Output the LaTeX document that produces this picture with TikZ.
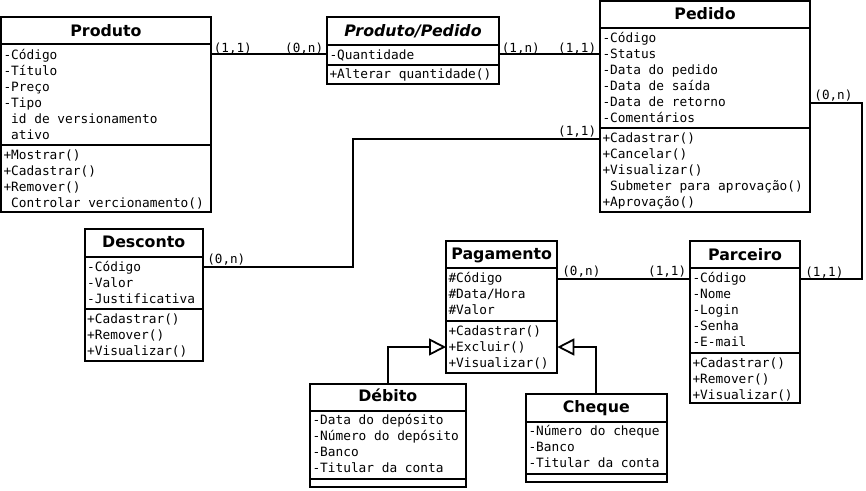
\documentclass[tikz,border=0pt]{standalone}
\usepackage{fontspec}
\setmainfont{DejaVu Sans}
\setmonofont{DejaVu Sans Mono}
\usetikzlibrary{arrows.meta}
\newcommand\mlines[4]{%
  \foreach \s [count=\i] in {#4} {\node[txt] (#1\i) at (#2, {#3+16*(\i-1)}) {\s};}}
\begin{document}
\begin{tikzpicture}[x=1pt,y=-1pt, line width=1.8pt,
  box/.style={draw, rectangle, inner sep=0pt, outer sep=0pt, anchor=north west},
  ttl/.style={font=\fontsize{15.8}{18}\selectfont\bfseries, anchor=base, inner sep=0pt},
  txt/.style={font=\fontsize{12.8}{16}\selectfont\ttfamily, anchor=base west, inner sep=0pt, xshift=0.6pt},
  lbl/.style={font=\fontsize{12.6}{14}\selectfont\ttfamily, inner sep=0pt},
  gen/.style={-{Triangle[open,length=17pt,width=17pt]}}]
\useasboundingbox (0,0) rectangle (866,490);

% Produto
\node[box, minimum width=210pt, minimum height=195.3pt] (produto) at (1,17) {};
\draw (produto.west |- 0,44.3) -- (produto.east |- 0,44.3);
\draw (produto.west |- 0,144.7) -- (produto.east |- 0,144.7);
\node[ttl] (produto-t) at (106,36) {Produto};
\mlines{produto-a}{2}{59}{-Código,-Título,-Preço,-Tipo,{\hphantom{-}id de versionamento},{\hphantom{-}ativo}}
\mlines{produto-m}{2}{159.5}{+Mostrar(),+Cadastrar(),+Remover(),{\hphantom{-}Controlar vercionamento()}}

% Produto/Pedido
\node[box, minimum width=172pt, minimum height=67.3pt] (prodped) at (327,16.7) {};
\draw (prodped.west |- 0,45) -- (prodped.east |- 0,45);
\draw (prodped.west |- 0,65) -- (prodped.east |- 0,65);
\node[ttl, font=\fontsize{15.8}{18}\selectfont\bfseries\itshape] (prodped-t) at (413,36) {Produto/Pedido};
\mlines{prodped-a}{328}{59}{-Quantidade}
\mlines{prodped-m}{328}{78.5}{+Alterar quantidade()}

% Pedido
\node[box, minimum width=210pt, minimum height=211.3pt] (pedido) at (600,1) {};
\draw (pedido.west |- 0,28.3) -- (pedido.east |- 0,28.3);
\draw (pedido.west |- 0,128.3) -- (pedido.east |- 0,128.3);
\node[ttl] (pedido-t) at (705,19.5) {Pedido};
\mlines{pedido-a}{601}{42.7}{-Código,-Status,-Data do pedido,-Data de saída,-Data de retorno,-Comentários}
\mlines{pedido-m}{601}{142.7}{+Cadastrar(),+Cancelar(),+Visualizar(),{\hphantom{-}Submeter para aprovação()},+Aprovação()}

% Desconto
\node[box, minimum width=118pt, minimum height=131.4pt] (desconto) at (84.7,229.3) {};
\draw (desconto.west |- 0,256.7) -- (desconto.east |- 0,256.7);
\draw (desconto.west |- 0,309.3) -- (desconto.east |- 0,309.3);
\node[ttl] (desconto-t) at (143.7,247.3) {Desconto};
\mlines{desconto-a}{85.7}{271.2}{-Código,-Valor,-Justificativa}
\mlines{desconto-m}{85.7}{323.8}{+Cadastrar(),+Remover(),+Visualizar()}

% Pagamento
\node[box, minimum width=111.3pt, minimum height=132pt] (pagamento) at (446,241) {};
\draw (pagamento.west |- 0,268.3) -- (pagamento.east |- 0,268.3);
\draw (pagamento.west |- 0,320.7) -- (pagamento.east |- 0,320.7);
\node[ttl] (pagamento-t) at (501.7,259.3) {Pagamento};
\mlines{pagamento-a}{447}{282.8}{\#Código,\#Data/Hora,\#Valor}
\mlines{pagamento-m}{447}{335.2}{+Cadastrar(),+Excluir(),+Visualizar()}

% Parceiro
\node[box, minimum width=110pt, minimum height=162.3pt] (parceiro) at (690,241) {};
\draw (parceiro.west |- 0,268.3) -- (parceiro.east |- 0,268.3);
\draw (parceiro.west |- 0,352.7) -- (parceiro.east |- 0,352.7);
\node[ttl] (parceiro-t) at (745,260) {Parceiro};
\mlines{parceiro-a}{691}{282.8}{-Código,-Nome,-Login,-Senha,-E-mail}
\mlines{parceiro-m}{691}{367.2}{+Cadastrar(),+Remover(),+Visualizar()}

% Debito
\node[box, minimum width=155.7pt, minimum height=102.7pt] (debito) at (310,384) {};
\draw (debito.west |- 0,410.7) -- (debito.east |- 0,410.7);
\draw (debito.west |- 0,479.3) -- (debito.east |- 0,479.3);
\node[ttl] (debito-t) at (387.8,401.7) {Débito};
\mlines{debito-a}{311}{424}{-Data do depósito,-Número do depósito,-Banco,-Titular da conta}

% Cheque
\node[box, minimum width=140.7pt, minimum height=87.7pt] (cheque) at (526,394) {};
\draw (cheque.west |- 0,421.7) -- (cheque.east |- 0,421.7);
\draw (cheque.west |- 0,474.3) -- (cheque.east |- 0,474.3);
\node[ttl] (cheque-t) at (596.3,412.3) {Cheque};
\mlines{cheque-a}{527}{435}{-Número do cheque,-Banco,-Titular da conta}

% Connectors
\draw (produto.east |- 0,54.3) -- (prodped.west |- 0,54.3);
\node[lbl, anchor=base west] (l1) at (213,52) {(1,1)};
\node[lbl, anchor=base east] (l2) at (324,52) {(0,n)};

\draw (prodped.east |- 0,54.3) -- (pedido.west |- 0,54.3);
\node[lbl, anchor=base west] (l3) at (501,52) {(1,n)};
\node[lbl, anchor=base east] (l4) at (597,52) {(1,1)};

\coordinate (dpbend) at (353,139);
\draw (desconto.east |- 0,266.7) -| (dpbend) -- (pedido.west |- dpbend);
\node[lbl, anchor=base west] (l5) at (206.5,263.5) {(0,n)};
\node[lbl, anchor=base east] (l6) at (597,135) {(1,1)};

\coordinate (ppbend) at (862,279);
\draw (pedido.east |- 0,103) -| (ppbend) -- (parceiro.east |- ppbend);
\node[lbl, anchor=base west] (l7) at (813.5,99) {(0,n)};
\node[lbl, anchor=base west] (l8) at (804.5,276) {(1,1)};

\draw (pagamento.east |- 0,279) -- (parceiro.west |- 0,279);
\node[lbl, anchor=base west] (l9) at (561.5,275.5) {(0,n)};
\node[lbl, anchor=base east] (l10) at (687,275.5) {(1,1)};

\draw[gen] (debito.north) |- (pagamento.west |- 0,347);
\draw[gen] (cheque.north) |- (pagamento.east |- 0,347);
\end{tikzpicture}
\end{document}
